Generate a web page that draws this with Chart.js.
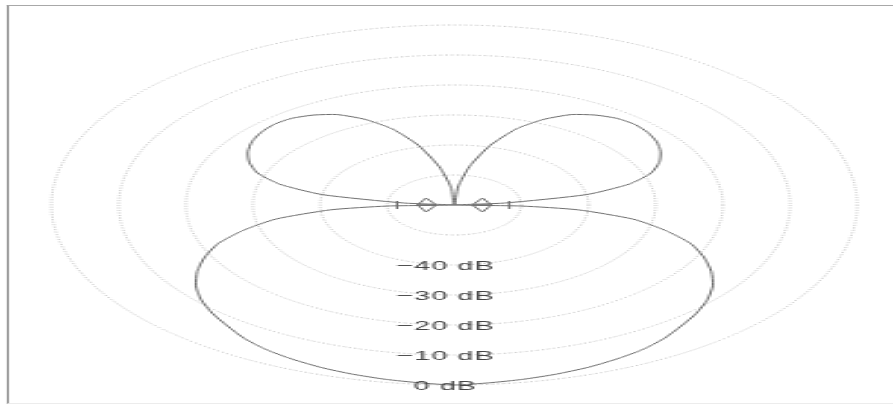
<!DOCTYPE html>
<html>
<head>
<meta charset="utf-8">
<script src="https://cdn.jsdelivr.net/npm/chart.js@4.4.0/dist/chart.umd.min.js"></script>
<style>
  html, body { margin: 0; padding: 0; background: #fff; overflow: hidden; }
  /* the plot is square and shown stretched sideways, like the original */
  #stage { position: absolute; left: 0; top: 0; width: 399px; height: 404px; transform: scaleX(2.238); transform-origin: 0 0; }
  #frame { position: absolute; left: 3px; top: 5px; right: 0; bottom: 0; box-sizing: border-box;
           border-left: 1px solid #9a9a9a; border-top: 1px solid #a8a8a8; border-bottom: 1px solid #ececec; }
  #polar { position: absolute; left: 0; top: 0; }
</style>
</head>
<body>
<div id="stage">
  <div id="frame"></div>
  <canvas id="polar" width="399" height="404"></canvas>
</div>
<script>
// angles in degrees from boresight (straight down), clockwise on screen
const patternAngles = [0, 5, 10, 15, 20, 25, 30, 35, 40, 45, 50, 55, 60, 65, 70, 75, 80, 85, 88, 90,
  95, 100, 105, 110, 115, 120, 125, 130, 135, 140, 145, 150, 155, 160, 165, 170, 175, 180,
  185, 190, 195, 200, 205, 210, 215, 220, 225, 230, 235, 240, 245, 250, 255, 260, 265, 270,
  272, 275, 280, 285, 290, 295, 300, 305, 310, 315, 320, 325, 330, 335, 340, 345, 350, 355];
const patternDb = [0, -0.5, -1.0, -1.6, -2.3, -3.2, -4.2, -5.6, -7.4, -9.0, -10.8, -13.0, -15.8, -19.0, -22.6, -27.5, -33.0, -41.5, -50.0, -60,
  -52.5, -40.0, -33.0, -28.8, -26.3, -24.5, -23.2, -22.4, -22.0, -22.3, -23.4, -25.2, -28.5, -33.0, -39.5, -47.0, -54.0, -60,
  -54.0, -47.0, -39.5, -33.0, -28.5, -25.2, -23.4, -22.3, -22.0, -22.4, -23.2, -24.5, -26.3, -28.8, -33.0, -40.0, -52.5, -60,
  -50.0, -41.5, -33.0, -27.5, -22.6, -19.0, -15.8, -13.0, -10.8, -9.0, -7.4, -5.6, -4.2, -3.2, -2.3, -1.6, -1.0, -0.5];

// tiny lobes next to the side nulls (upper/lower, left/right)
const nullLobeAngles = [[90, 91, 119], [61, 89, 90], [241, 269, 270], [270, 271, 299]];
const nullLobeDb = [[-54.5, -57.3, -55.2], [-55.2, -57.3, -54.5], [-55.2, -57.3, -54.5], [-54.5, -57.3, -55.2]];

// short tick marks on the 90/270 degree line
const markerAngles = [90, 270];
const markerDb = [-51.5, -51.8];

const dbMin = -60;
const dbMax = 0;
const ringStep = 10;
const ringValues = [0, -10, -20, -30, -40];
const ringLabels = ['0 dB', '\u221210 dB', '\u221220 dB', '\u221230 dB', '\u221240 dB'];

const angleLabels = Array.from({ length: 360 }, (_, i) => i);
const lineColor = '#6f6f6f';

function spread(angles, values) {
  const out = angleLabels.map(() => null);
  angles.forEach((a, i) => { out[a] = values[i]; });
  return out;
}

const ringLabelPlugin = {
  id: 'ringLabels',
  afterDatasetsDraw(chart) {
    const r = chart.scales.r;
    const ctx = chart.ctx;
    ctx.save();
    ctx.font = '13px "Liberation Sans", Arial, sans-serif';
    ctx.letterSpacing = '0.4px';
    ctx.fillStyle = '#444';
    ctx.textAlign = 'center';
    ctx.textBaseline = 'middle';
    ringValues.forEach((v, i) => {
      ctx.fillText(ringLabels[i], r.xCenter - 4, r.yCenter + r.getDistanceFromCenterForValue(v) + 1.5);
    });
    ctx.restore();
  }
};

const datasets = [{
  data: spread(patternAngles, patternDb),
  borderColor: lineColor,
  borderWidth: 1,
  fill: false,
  spanGaps: true,
  tension: 0.2,
  pointRadius: 0,
  clip: false
}, {
  data: spread(markerAngles, markerDb),
  showLine: false,
  pointStyle: 'line',
  pointRotation: 90,
  pointRadius: 4,
  pointBorderColor: lineColor,
  pointBorderWidth: 1,
  clip: false
}];

nullLobeAngles.forEach((angles, i) => {
  datasets.push({
    data: spread(angles, nullLobeDb[i]),
    borderColor: lineColor,
    borderWidth: 1,
    fill: false,
    spanGaps: true,
    tension: 0,
    pointRadius: 0,
    clip: false
  });
});

new Chart(document.getElementById('polar'), {
  type: 'radar',
  data: { labels: angleLabels, datasets: datasets },
  options: {
    responsive: false,
    animation: false,
    layout: { padding: { left: 23, top: 25, right: 16, bottom: 19 } },
    plugins: { legend: { display: false }, tooltip: { enabled: false } },
    scales: {
      r: {
        min: dbMin,
        max: dbMax,
        startAngle: 180,
        ticks: { display: false, stepSize: ringStep },
        pointLabels: { display: false },
        angleLines: { display: false },
        grid: { circular: true, color: '#bdbdbd', lineWidth: 1 },
        border: { dash: [1, 1.5] }
      }
    }
  },
  plugins: [ringLabelPlugin]
});
</script>
</body>
</html>
